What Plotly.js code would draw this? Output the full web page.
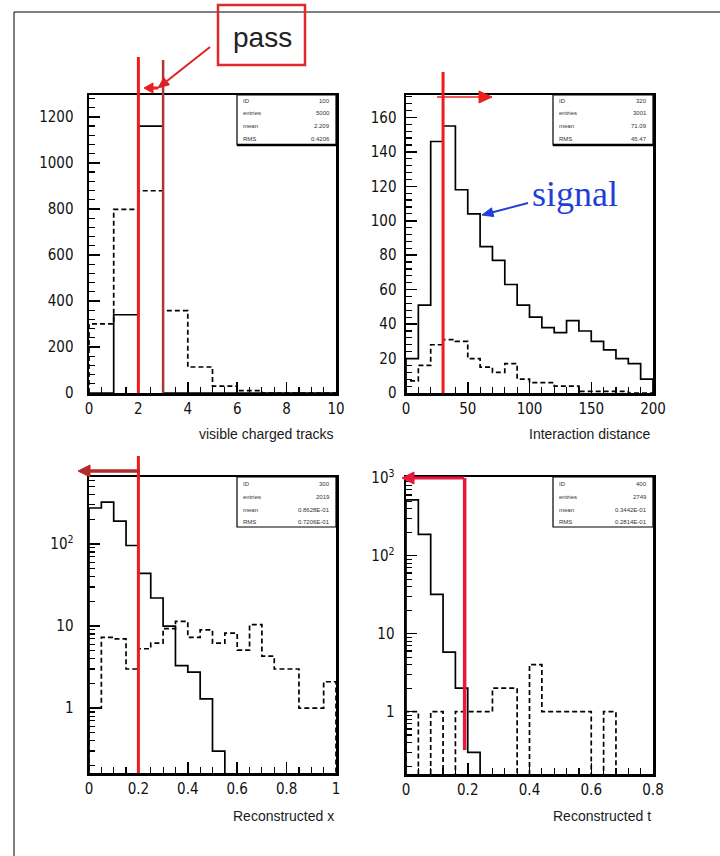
<!DOCTYPE html>
<html><head><meta charset="utf-8">
<script src="https://cdn.plot.ly/plotly-3.0.1.min.js"></script>
<style>html,body{margin:0;padding:0;background:#fff}#chart{width:720px;height:856px}</style>
</head><body><div id="chart"></div>
<script>
// ---------------- DATA ----------------
// Panel 1: visible charged tracks (bin lower edge 0, width 1)
const tracksBinStart = 0, tracksBinWidth = 1;
const tracksSignal     = [0, 340, 1160, 0, 0, 0, 0, 0, 0, 0];
const tracksBackground = [300, 798, 879, 358, 113, 30, 10, 0, 0, 0];
const tracksCuts = [2, 3];

// Panel 2: interaction distance (bin lower edge 0, width 10)
const distBinStart = 0, distBinWidth = 10;
const distSignal     = [20, 51, 146, 155, 118, 104, 85, 77, 63, 51, 44, 38, 35, 42, 36, 30, 25, 20, 17, 8];
const distBackground = [7, 16, 28, 31, 30, 20, 15, 12, 17, 8, 6, 6, 4, 4, 1, 1, 1, 1, 0, 0];
const distCut = 30;

// Panel 3: reconstructed x (bin lower edge 0, width 0.05)
const xBinStart = 0, xBinWidth = 0.05;
const xSignal     = [275, 325, 190, 96, 44, 22, 10, 3.3, 2.75, 1.3, 0.3, 0, 0, 0, 0, 0, 0, 0, 0, 0];
const xBackground = [1, 7.3, 7, 3, 5.3, 6.2, 9.3, 11.4, 7.3, 9, 6.2, 8.2, 5.1, 10.4, 4.3, 3, 3, 1, 1, 2.1];
const xCut = 0.2;

// Panel 4: reconstructed t (bin lower edge 0, width 0.04)
const tBinStart = 0, tBinWidth = 0.04;
const tSignal     = [520, 188, 32, 5.8, 2, 0.3, 0, 0, 0, 0, 0, 0, 0, 0, 0, 0, 0, 0, 0, 0];
const tBackground = [1, 0, 1, 0, 1, 1, 1, 2, 2, 0, 4, 1, 1, 1, 1, 0, 1, 0, 0, 0];
const tCut = 0.19;

// Statistics boxes
const statLabels = ['ID', 'entries', 'mean', 'RMS'];
const stats1 = ['100', '5000', '2.209', '0.4206'];
const stats2 = ['320', '3001', '71.09', '45.47'];
const stats3 = ['300', '2019', '0.8628E-01', '0.7206E-01'];
const stats4 = ['400', '2749', '0.3442E-01', '0.2814E-01'];

const axisTitles = ['visible charged tracks', 'Interaction distance', 'Reconstructed x', 'Reconstructed t'];

// ---------------- HELPERS ----------------
const W = 720, H = 856;
const px = v => v / W;
const py = v => 1 - v / H;

function steps(start, width, vals, floor) {
  const xs = [start], ys = [floor];
  vals.forEach((v, i) => { xs.push(start + i * width); ys.push(v > 0 ? v : floor); });
  const end = start + vals.length * width;
  const last = vals[vals.length - 1];
  xs.push(end); ys.push(last > 0 ? last : floor);
  xs.push(end); ys.push(floor);
  return {xs, ys};
}

function histTrace(start, width, vals, floor, xa, ya, dashed) {
  const s = steps(start, width, vals, floor);
  return {
    type: 'scatter', mode: 'lines', x: s.xs, y: s.ys, xaxis: xa, yaxis: ya,
    line: {shape: 'hv', color: '#000', width: 1.7, dash: dashed ? '5px,3px' : 'solid'},
    hoverinfo: 'skip', showlegend: false
  };
}

const traces = [
  histTrace(tracksBinStart, tracksBinWidth, tracksBackground, 0, 'x', 'y', true),
  histTrace(tracksBinStart, tracksBinWidth, tracksSignal, 0, 'x', 'y', false),
  histTrace(distBinStart, distBinWidth, distBackground, 0, 'x2', 'y2', true),
  histTrace(distBinStart, distBinWidth, distSignal, 0, 'x2', 'y2', false),
  histTrace(xBinStart, xBinWidth, xBackground, 1e-3, 'x3', 'y3', true),
  histTrace(xBinStart, xBinWidth, xSignal, 1e-3, 'x3', 'y3', false),
  histTrace(tBinStart, tBinWidth, tBackground, 1e-3, 'x4', 'y4', true),
  histTrace(tBinStart, tBinWidth, tSignal, 1e-3, 'x4', 'y4', false),
];

const tickFont = {family: 'Liberation Sans Narrow, DejaVu Sans Condensed, Arial Narrow, sans-serif', size: 15, color: '#111'};
const titleFont = {family: 'Liberation Sans, Arial, sans-serif', size: 14, color: '#1a1a1a'};
function axis(extra) {
  return Object.assign({
    showline: true, linecolor: '#000', linewidth: 2.5, mirror: true,
    ticks: 'inside', ticklen: 11, tickwidth: 1.5, tickcolor: '#000',
    showgrid: false, zeroline: false, tickfont: tickFont, fixedrange: true
  }, extra);
}
const logMinor = [];
for (let d = -1; d <= 2; d++) for (let k = 2; k <= 9; k++) logMinor.push(k * Math.pow(10, d));
const minorLin = dt => ({ticks: 'inside', ticklen: 6, tickwidth: 1.2, tickcolor: '#000', dtick: dt, showgrid: false});
const minorLog = {ticks: 'inside', ticklen: 6, tickwidth: 1.2, tickcolor: '#000', tickmode: 'array', tickvals: logMinor, showgrid: false};

const dx1 = [px(89), px(336)], dx2 = [px(406), px(653)];

const layout = {
  width: W, height: H, margin: {l: 0, r: 0, t: 0, b: 0},
  paper_bgcolor: '#fff', plot_bgcolor: '#fff', showlegend: false,
  font: tickFont,
  xaxis:  axis({domain: dx1, anchor: 'y',  range: [0, 10],  dtick: 2,   minor: minorLin(0.5)}),
  yaxis:  axis({domain: [py(393), py(95)], anchor: 'x',  range: [0, 1295], dtick: 200, minor: minorLin(40), ticklabelstandoff: 10}),
  xaxis2: axis({domain: dx2, anchor: 'y2', range: [0, 200], dtick: 50,  minor: minorLin(10)}),
  yaxis2: axis({domain: [py(393), py(95)], anchor: 'x2', range: [0, 173], dtick: 20, minor: minorLin(4), ticklabelstandoff: 4}),
  xaxis3: axis({domain: dx1, anchor: 'y3', range: [0, 1],   dtick: 0.2, minor: minorLin(0.05)}),
  yaxis3: axis({domain: [py(773), py(477)], anchor: 'x3', type: 'log', range: [-0.79, 2.817], ticklabelstandoff: 10,
                tickmode: 'array', tickvals: [1, 10, 100], ticktext: ['1', '10', '10<sup>2</sup>'], minor: minorLog}),
  xaxis4: axis({domain: dx2, anchor: 'y4', range: [0, 0.8], dtick: 0.2, minor: minorLin(0.04)}),
  yaxis4: axis({domain: [py(774), py(477)], anchor: 'x4', type: 'log', range: [-0.8, 3.01], ticklabelstandoff: 6,
                tickmode: 'array', tickvals: [1, 10, 100, 1000], ticktext: ['1', '10', '10<sup>2</sup>', '10<sup>3</sup>'], minor: minorLog}),
  shapes: [], annotations: []
};

// page frame
layout.shapes.push({type: 'line', xref: 'paper', yref: 'paper', x0: px(14), x1: 1, y0: py(12), y1: py(12), line: {color: '#000', width: 1}});
layout.shapes.push({type: 'line', xref: 'paper', yref: 'paper', x0: px(14), x1: px(14), y0: py(12), y1: 0, line: {color: '#000', width: 1}});

// stats boxes
const statFont = {family: 'Liberation Sans, Arial', size: 6, color: '#333'};
function statsBox(left, right, top, bottom, rows, vals, thickBottom) {
  layout.shapes.push({type: 'rect', xref: 'paper', yref: 'paper', x0: px(left), x1: px(right), y0: py(bottom), y1: py(top), line: {color: '#000', width: 1.2}, fillcolor: '#fff'});
  if (thickBottom) layout.shapes.push({type: 'line', xref: 'paper', yref: 'paper', x0: px(left), x1: px(right), y0: py(bottom), y1: py(bottom), line: {color: '#000', width: 2.5}});
  statLabels.forEach((lab, i) => {
    layout.annotations.push({xref: 'paper', yref: 'paper', x: px(left + 4), y: py(rows[i]), xanchor: 'left', yanchor: 'middle', text: lab, showarrow: false, font: statFont});
    layout.annotations.push({xref: 'paper', yref: 'paper', x: px(right - 4), y: py(rows[i]), xanchor: 'right', yanchor: 'middle', text: vals[i], showarrow: false, font: statFont});
  });
}
statsBox(237, 336, 95, 145, [101, 113, 126, 139], stats1, true);
statsBox(553, 653, 95, 145, [101, 113, 126, 139], stats2, true);
statsBox(237, 336, 477, 527, [484, 497, 510, 522], stats3, false);
statsBox(553, 653, 477, 527, [484, 497, 510, 522], stats4, false);

// axis titles (right-aligned, ROOT style)
[[336, 434], [653, 434], [336, 816], [653, 816]].forEach((p, i) => {
  layout.annotations.push({xref: 'paper', yref: 'paper', x: px(p[0]), y: py(p[1]), xanchor: 'right', yanchor: 'middle', text: axisTitles[i], showarrow: false, font: titleFont});
});

// cut lines
layout.shapes.push({type: 'line', xref: 'x', yref: 'paper', x0: tracksCuts[0], x1: tracksCuts[0], y0: py(393), y1: py(57), line: {color: '#ee1c1c', width: 3}});
layout.shapes.push({type: 'line', xref: 'x', yref: 'paper', x0: tracksCuts[1], x1: tracksCuts[1], y0: py(393), y1: py(60), line: {color: '#b03535', width: 2.5}});
layout.shapes.push({type: 'line', xref: 'x2', yref: 'paper', x0: distCut, x1: distCut, y0: py(393), y1: py(72), line: {color: '#ee1c1c', width: 3}});
layout.shapes.push({type: 'line', xref: 'x3', yref: 'paper', x0: xCut, x1: xCut, y0: py(773), y1: py(456), line: {color: '#ee1c1c', width: 3}});
layout.shapes.push({type: 'line', xref: 'x4', yref: 'paper', x0: tCut, x1: tCut, y0: py(750), y1: py(478), line: {color: '#e8173c', width: 3.5}});

// "pass" box
layout.shapes.push({type: 'rect', xref: 'paper', yref: 'paper', x0: px(218), x1: px(305), y0: py(65), y1: py(5), line: {color: '#e02a2a', width: 2.5}});
layout.annotations.push({xref: 'paper', yref: 'paper', x: px(262), y: py(37), xanchor: 'center', yanchor: 'middle', text: 'pass', showarrow: false, font: {family: 'Liberation Sans, Arial', size: 28, color: '#222'}});

// arrows drawn as a line plus a filled triangular head (pixel geometry -> paper)
function arrow(hx, hy, tx, ty, color, w, headLen, headW) {
  const dx = hx - tx, dy = hy - ty, L = Math.hypot(dx, dy);
  const ux = dx / L, uy = dy / L, nx = -uy, ny = ux;
  const bx = hx - ux * headLen, by = hy - uy * headLen;
  layout.shapes.push({type: 'line', xref: 'paper', yref: 'paper', x0: px(tx), y0: py(ty), x1: px(bx), y1: py(by), line: {color: color, width: w}});
  const c1x = bx + nx * headW / 2, c1y = by + ny * headW / 2, c2x = bx - nx * headW / 2, c2y = by - ny * headW / 2;
  layout.shapes.push({type: 'path', xref: 'paper', yref: 'paper',
    path: `M ${px(hx)},${py(hy)} L ${px(c1x)},${py(c1y)} L ${px(c2x)},${py(c2y)} Z`,
    fillcolor: color, line: {color: color, width: 1}});
}
arrow(158, 88, 210, 47, '#e02020', 2, 11, 9);
arrow(144, 88, 158, 88, '#ee1c1c', 3, 9, 10);
arrow(492, 97, 437, 97, '#e82020', 1.6, 13, 12);
arrow(78, 471, 140, 471, '#b52a2a', 3.5, 12, 12);
arrow(402, 478, 464, 478, '#e8173c', 3, 12, 12);
arrow(482, 215, 528, 203, '#1f3fd6', 2, 11, 9);

layout.annotations.push({xref: 'paper', yref: 'paper', x: px(575), y: py(194), xanchor: 'center', yanchor: 'middle', text: 'signal', showarrow: false, font: {family: 'Liberation Serif, Times New Roman, serif', size: 36, color: '#1f3fd6'}});

Plotly.newPlot('chart', traces, layout, {displayModeBar: false, staticPlot: true});
</script>
</body></html>
